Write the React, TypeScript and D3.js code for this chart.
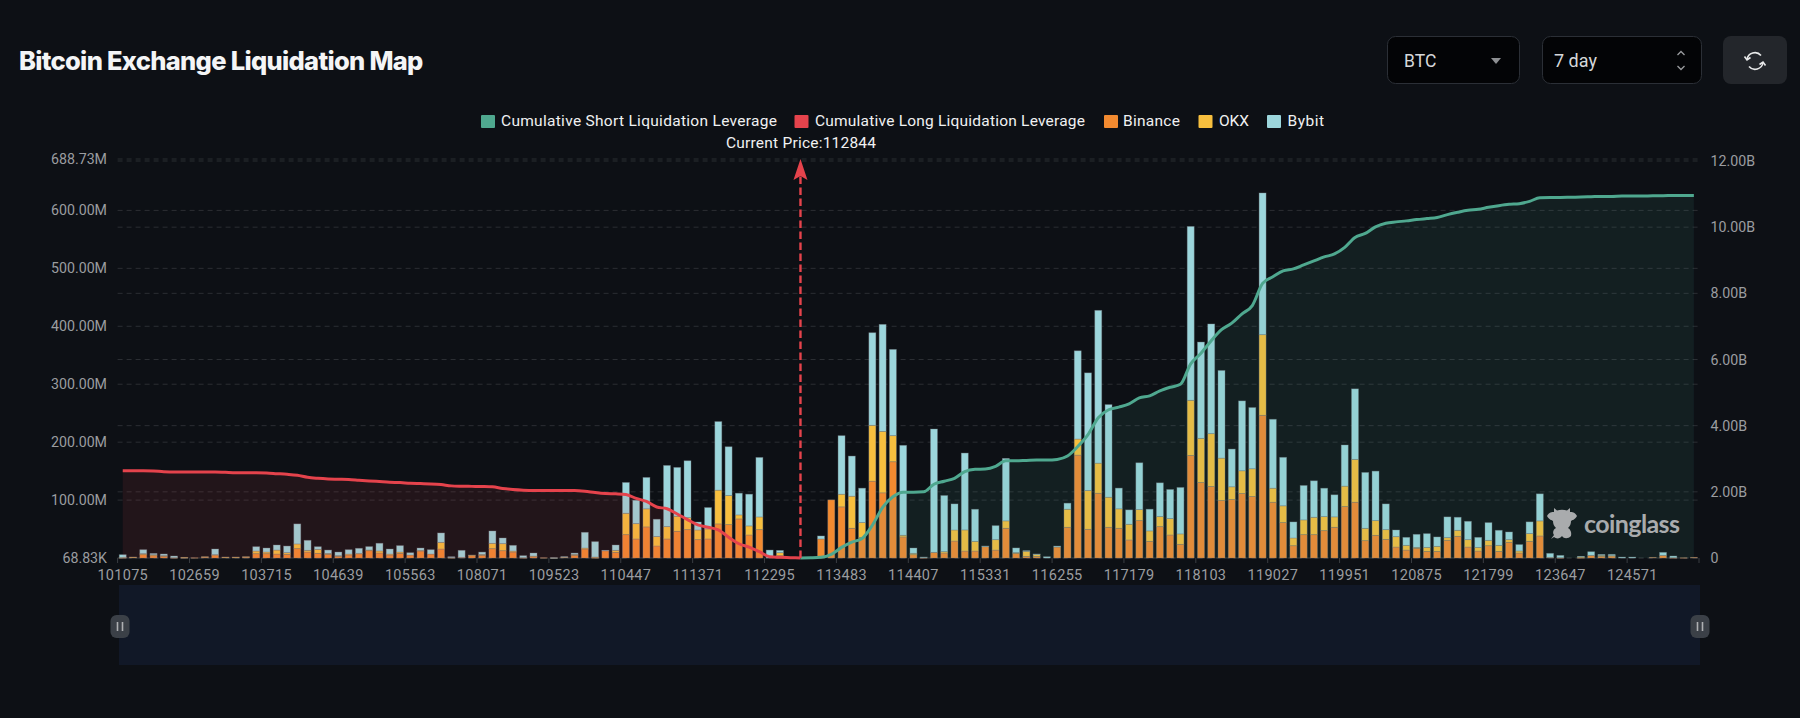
/**
 * Bitcoin Exchange Liquidation Map: stacked exchange bars on the left axis,
 * cumulative long / short lines on the right axis.
 */
import React from 'react';
import * as d3 from 'd3';

// ── Data (millions, per price bucket) ─────────────────────────────────────────
const binance = [
  0.6, 1.2, 5.8, 4, 2.9, 0.6, 0.6, 0.6, 1.7, 5.2,
  1.2, 1.2, 1.7, 7.5, 7.5, 6.9, 6.3, 16.2, 10.4, 8.1,
  6.3, 2.9, 5.2, 7.5, 12.7, 8.7, 5.2, 8.1, 5.2, 12.1,
  6.9, 15.6, 0.6, 1.2, 4, 4.6, 16.2, 12.7, 10.4, 0.6,
  2.3, 0.6, 0.3, 1.2, 4.6, 15.6, 0.6, 12.7, 9.8, 40.4,
  32.9, 53.7, 20.8, 32.9, 46.2, 49, 31.7, 32.9, 58.9, 57.7,
  67.5, 39.8, 49, 0, 4, 0, 0, 0, 32.9, 100.4,
  88.3, 51.4, 35.2, 132.7, 112.5, 166.2, 36.4, 5.8, 0.6, 9.8,
  8.7, 29.4, 12.1, 12.1, 19.6, 13.8, 51.4, 8.1, 2.9, 2.9,
  0, 19, 53.1, 177.7, 49.6, 111.9, 53.1, 51.4, 31.2, 64.6,
  28.9, 54.2, 39.8, 23.7, 177.1, 130.4, 123.5, 99.2, 101, 111.4,
  106.2, 246.4, 96.4, 61.2, 21.3, 40.4, 40.4, 47.3, 53.1, 88.9,
  96.4, 30, 39.2, 32.3, 19, 13.8, 16.7, 11.5, 11.5, 30.6,
  37.5, 19, 12.1, 21.3, 11.5, 27.1, 8.7, 28.9, 38.1, 1.2,
  0.6, 0, 0.6, 4.6, 2.9, 3.5, 0, 0, 0, 1.2,
  4.6, 0.6, 0.6, 1.2,
];
const okx = [
  0.6, 0.6, 1.7, 1.7, 1.2, 0, 0.6, 0, 0.6, 0.6,
  0.6, 0.6, 0.6, 4.6, 2.9, 6.9, 2.9, 8.1, 2.9, 6.9,
  1.7, 1.2, 1.7, 0.6, 1.2, 3.5, 1.7, 2.3, 0, 1.2,
  0, 11.5, 0, 0, 1.2, 1.7, 9.2, 12.1, 1.7, 0,
  1.2, 0, 0, 0.6, 1.7, 1.7, 1.2, 0, 3.5, 36.9,
  26.5, 31.2, 16.2, 21.3, 26, 20.8, 16.7, 17.3, 58.3, 50.2,
  6.9, 15.6, 21.9, 0, 5.2, 0, 0, 0, 0, 0,
  21.9, 55.4, 26, 96.4, 106.2, 45, 2.9, 2.3, 0, 0,
  2.3, 19, 36.4, 16.7, 0, 17.9, 12.7, 1.2, 8.7, 3.5,
  0, 0, 31.2, 27.7, 66.9, 51.9, 51.9, 33.5, 27.1, 19,
  17.9, 17.3, 28.3, 17.9, 95.2, 76.2, 91.2, 73.3, 21.9, 39.2,
  47.9, 139.1, 24.2, 28.9, 13.3, 25.4, 30, 24.2, 17.9, 35.2,
  73.9, 21.3, 25.4, 16.7, 17.9, 8.1, 1.7, 6.9, 8.7, 4.6,
  10.4, 12.7, 6.3, 9.2, 10.4, 4.6, 3.5, 13.3, 26, 0,
  0, 0, 1.7, 0, 1.7, 0.6, 0, 0, 0, 0,
  0, 0, 0, 0,
];
const bybit = [
  4.6, 0, 6.9, 2.3, 2.9, 2.9, 0, 0, 0, 9.8,
  0, 0, 0, 7.5, 6.9, 8.7, 11.5, 34.6, 17.3, 4.6,
  5.8, 6.3, 7.5, 8.7, 5.8, 13.3, 8.7, 11, 4, 4,
  7.5, 16.2, 1.7, 12.1, 0, 4, 21.3, 9.8, 9.8, 3.5,
  5.2, 0, 0.3, 0.6, 2.3, 27.1, 26.5, 0.6, 9.2, 53.1,
  40.4, 54.2, 30, 105.6, 84.2, 98.1, 13.8, 36.9, 118.3, 84.2,
  37.5, 54.8, 102.7, 13.8, 4, 0, 0, 0, 5.2, 0,
  101, 69.2, 59.4, 159.8, 184.6, 148.9, 155.2, 9.2, 1.2, 212.9,
  96.9, 45, 132.7, 55.4, 1.2, 24.2, 107.9, 8.1, 1.2, 0.6,
  2.3, 1.7, 10.4, 152.3, 203.1, 263.7, 159.8, 35.8, 24.8, 80.8,
  37.5, 58.3, 50.2, 80.2, 300, 166.2, 189.3, 151.2, 65.2, 120.6,
  105.6, 244.6, 118.9, 83.7, 27.7, 59.4, 62.9, 49, 38.1, 71,
  121.7, 96.4, 85.4, 44.4, 11.5, 13.8, 22.5, 23.7, 16.2, 35.8,
  22.5, 31.7, 17.3, 30.6, 26, 13.3, 11, 20.2, 46.7, 6.9,
  4, 0, 0.6, 6.3, 1.7, 2.3, 1.7, 1.7, 0, 0,
  5.2, 2.9, 0, 0,
];

// Cumulative leverage in billions. Long runs from bucket 0 down to the current
// price bucket, short runs from there to the last bucket.
const cumulativeLong = [
  2.64, 2.64, 2.64, 2.63, 2.61, 2.6, 2.6, 2.6, 2.6, 2.6,
  2.59, 2.58, 2.58, 2.58, 2.57, 2.55, 2.53, 2.5, 2.44, 2.41,
  2.39, 2.38, 2.37, 2.35, 2.33, 2.31, 2.29, 2.28, 2.26, 2.25,
  2.24, 2.22, 2.18, 2.17, 2.165, 2.16, 2.15, 2.1, 2.07, 2.05,
  2.04, 2.04, 2.04, 2.04, 2.04, 2.02, 1.98, 1.95, 1.94, 1.92,
  1.8, 1.71, 1.54, 1.49, 1.33, 1.16, 1, 0.93, 0.85, 0.63,
  0.43, 0.33, 0.19, 0.04, 0.02, 0.01, 0,
];
const cumulativeShort = [
  0, 0.005, 0.02, 0.11, 0.32, 0.48, 0.59, 0.99, 1.53, 1.85,
  1.99, 1.99, 2, 2.23, 2.32, 2.41, 2.61, 2.68, 2.69, 2.77,
  2.94, 2.94, 2.95, 2.96, 2.96, 2.98, 3.08, 3.37, 3.73, 4.24,
  4.48, 4.56, 4.66, 4.84, 4.9, 5.05, 5.16, 5.25, 5.87, 6.19,
  6.57, 6.9, 7.1, 7.38, 7.63, 8.3, 8.5, 8.68, 8.74, 8.86,
  8.98, 9.1, 9.19, 9.39, 9.69, 9.81, 10.01, 10.12, 10.16, 10.19,
  10.23, 10.26, 10.29, 10.38, 10.45, 10.51, 10.54, 10.6, 10.65, 10.69,
  10.71, 10.78, 10.89, 10.9, 10.9, 10.905, 10.91, 10.92, 10.93, 10.93,
  10.94, 10.94, 10.94, 10.95, 10.95, 10.96, 10.96, 10.96,
];

const xTickLabels = [
  '101075', '102659', '103715', '104639', '105563', '108071', '109523', '110447',
  '111371', '112295', '113483', '114407', '115331', '116255', '117179', '118103',
  '119027', '119951', '120875', '121799', '123647', '124571',
];
const leftTicks = [0.06883, 100, 200, 300, 400, 500, 600, 688.73];
const leftTickLabels = ['68.83K', '100.00M', '200.00M', '300.00M', '400.00M', '500.00M', '600.00M', '688.73M'];
const rightTicks = [0, 2, 4, 6, 8, 10, 12];
const rightTickLabels = ['0', '2.00B', '4.00B', '6.00B', '8.00B', '10.00B', '12.00B'];

const CURRENT_BUCKET = 66; // price bucket of the current price marker
const TICK_EVERY = 7;

// ── Layout + colours ──────────────────────────────────────────────────────────
const WIDTH = 1800;
const HEIGHT = 718;
const PLOT = { left: 117.6, right: 1699, top: 159, topRight: 161, bottom: 558 };

const BG = '#0d1015';
const GRID = '#2b2e33';
const AXIS_TEXT = '#9b9da0';
const GREEN = '#4fa88f';
const RED = '#e5434c';
const ORANGE = '#f28a30';
const YELLOW = '#f7bf3e';
const TEAL = '#9cd6dc';

const FONT = 'Roboto, sans-serif';

const legendItems = [
  { label: 'Cumulative Short Liquidation Leverage', color: GREEN, x: 481, textX: 501, textW: 276 },
  { label: 'Cumulative Long Liquidation Leverage', color: RED, x: 794.5, textX: 815, textW: 270 },
  { label: 'Binance', color: ORANGE, x: 1104, textX: 1123, textW: 57 },
  { label: 'OKX', color: YELLOW, x: 1198.5, textX: 1219, textW: 30 },
  { label: 'Bybit', color: TEAL, x: 1267, textX: 1287.5, textW: 36.5 },
];

// ── Scales ────────────────────────────────────────────────────────────────────
const buckets = d3.range(binance.length);
const x = d3
  .scaleBand<number>()
  .domain(buckets)
  .range([PLOT.left, PLOT.right])
  .paddingInner(0.32)
  .paddingOuter(0.16);
const center = (i: number) => (x(i) ?? 0) + x.bandwidth() / 2;

const yLeft = d3.scaleLinear().domain([0.06883, 688.73]).range([PLOT.bottom, PLOT.top]);
const yRight = d3.scaleLinear().domain([0, 12]).range([PLOT.bottom, PLOT.topRight]);

const rows = buckets.map((i) => ({ binance: binance[i], okx: okx[i], bybit: bybit[i] }));
const stacked = d3.stack<{ binance: number; okx: number; bybit: number }>().keys(['binance', 'okx', 'bybit'])(rows);
const stackColors = [ORANGE, YELLOW, TEAL];

const longPoints = cumulativeLong.map((v, i) => ({ i, v }));
const shortPoints = cumulativeShort.map((v, k) => ({ i: CURRENT_BUCKET + k, v }));

const line = d3
  .line<{ i: number; v: number }>()
  .x((d) => center(d.i))
  .y((d) => yRight(d.v))
  .curve(d3.curveMonotoneX);
const area = d3
  .area<{ i: number; v: number }>()
  .x((d) => center(d.i))
  .y0(PLOT.bottom)
  .y1((d) => yRight(d.v))
  .curve(d3.curveMonotoneX);

// Bull mascot outline, drawn around its own centre
const BULL_PATH =
  'M-15,-7 C-13,-11 -10,-11 -8,-11 L-8,-15 L-5,-12.5 C-2,-13.5 2,-13.5 5,-12.5 L8,-15 L8,-11 C10,-11 13,-11 15,-7 ' +
  'C13,-3 10,-3 9,-2 C9,1 8,3 6,5 C8,6 10,9 9,13 C6,16 2,16 0,13 C-2,16 -6,16 -8,14 L-11,16 L-8,12 ' +
  'C-10,9 -8,6 -6,5 C-8,3 -9,1 -9,-2 C-10,-3 -13,-3 -15,-7 Z';

export default function App() {
  const currentX = center(CURRENT_BUCKET);
  const tickBuckets = xTickLabels.map((_, k) => k * TICK_EVERY);

  return (
    <div style={{ position: 'fixed', left: 0, top: 0, width: WIDTH, height: HEIGHT, background: BG }}>
      <svg width={WIDTH} height={HEIGHT} style={{ display: 'block', fontFamily: FONT }}>
        <rect width={WIDTH} height={HEIGHT} fill={BG} />

        {/* ── Header ── */}
        <text x={19} y={70} fill="#f4f5f6" fontFamily="Inter, sans-serif" fontWeight={800} fontSize={25.5} letterSpacing={-0.7}>
          Bitcoin Exchange Liquidation Map
        </text>

        <rect x={1387.5} y={36.5} width={132} height={47} rx={8} fill="#030406" stroke="#2b2f36" />
        <text x={1404} y={67} fill="#d6d8da" fontSize={17.5}>BTC</text>
        <path d="M1491,58 L1501,58 L1496,64 Z" fill="#8d8f92" />

        <rect x={1542.5} y={36.5} width={159} height={47} rx={8} fill="#030406" stroke="#2b2f36" />
        <text x={1554} y={67} fill="#d6d8da" fontSize={18}>7 day</text>
        <path d="M1677.5,55 L1681,51.5 L1684.5,55 M1677.5,66 L1681,69.5 L1684.5,66" fill="none" stroke="#9a9c9f" strokeWidth={1.3} />

        <rect x={1723} y={36} width={64} height={48} rx={8} fill="#23262b" />
        <g fill="none" stroke="#e8e9ea" strokeWidth={1.6} transform="translate(1755,61)">
          <path d="M-8,-1.5 A8,8 0 0 1 6,-5.5" />
          <path d="M8,1.5 A8,8 0 0 1 -6,5.5" />
          <path d="M-10.5,-4.5 L-8,-1 L-4.5,-3.5" />
          <path d="M10.5,4.5 L8,1 L4.5,3.5" />
        </g>

        {/* ── Legend ── */}
        {legendItems.map((d) => (
          <g key={d.label}>
            <rect x={d.x} y={115} width={14} height={13} fill={d.color} rx={1} />
            <text x={d.textX} y={126} fill="#f0f1f2" fontSize={15.5} textLength={d.textW} lengthAdjust="spacing">
              {d.label}
            </text>
          </g>
        ))}
        <text x={726} y={148} fill="#f0f1f2" fontSize={15.5} textLength={150} lengthAdjust="spacing">
          Current Price:112844
        </text>

        {/* ── Grid ── */}
        <g stroke={GRID} strokeDasharray="5 4">
          {leftTicks.map((t) => (
            <line key={`l${t}`} x1={PLOT.left} x2={PLOT.right} y1={yLeft(t)} y2={yLeft(t)} />
          ))}
          {rightTicks.map((t) => (
            <line key={`r${t}`} x1={PLOT.left} x2={PLOT.right} y1={yRight(t)} y2={yRight(t)} />
          ))}
        </g>

        {/* ── Stacked bars ── */}
        {stacked.map((series, s) => (
          <g key={series.key} fill={stackColors[s]} stroke="rgba(120,125,130,0.45)" strokeWidth={0.8}>
            {series.map((d, i) =>
              d[1] - d[0] > 0 ? (
                <rect
                  key={i}
                  x={x(i)}
                  y={yLeft(d[1])}
                  width={x.bandwidth()}
                  height={Math.max(0.6, yLeft(d[0]) - yLeft(d[1]))}
                />
              ) : null,
            )}
          </g>
        ))}

        {/* ── Cumulative areas and lines, over the bars ── */}
        <path d={area(longPoints) ?? ''} fill={RED} fillOpacity={0.1} />
        <path d={area(shortPoints) ?? ''} fill={GREEN} fillOpacity={0.1} />
        <path d={line(longPoints) ?? ''} fill="none" stroke={RED} strokeWidth={3} />
        <path d={line(shortPoints) ?? ''} fill="none" stroke={GREEN} strokeWidth={3} />

        {/* ── Current price marker ── */}
        <line x1={currentX} x2={currentX} y1={PLOT.bottom} y2={176} stroke={RED} strokeWidth={2.4} strokeDasharray="7.5 3.5" />
        <path d={`M${currentX},159 L${currentX + 7},180 L${currentX},176 L${currentX - 7},180 Z`} fill={RED} />

        {/* ── Axes ── */}
        {leftTicks.map((t, k) => (
          <text key={t} x={107} y={yLeft(t) + 5} textAnchor="end" fill={AXIS_TEXT} fontSize={14.2}>
            {leftTickLabels[k]}
          </text>
        ))}
        {rightTicks.map((t, k) => (
          <text key={t} x={1710.5} y={yRight(t) + 5} fill={AXIS_TEXT} fontSize={14.2}>
            {rightTickLabels[k]}
          </text>
        ))}
        <g stroke="#3a3d42">
          {tickBuckets.map((b) => (
            <line key={b} x1={x.step() * b + PLOT.left} x2={x.step() * b + PLOT.left} y1={PLOT.bottom} y2={PLOT.bottom + 5} />
          ))}
          <line x1={PLOT.right} x2={PLOT.right} y1={PLOT.bottom} y2={PLOT.bottom + 5} />
        </g>
        {tickBuckets.map((b, k) => (
          <text key={b} x={center(b)} y={580} textAnchor="middle" fill={AXIS_TEXT} fontSize={14.5} letterSpacing={0.3}>
            {xTickLabels[k]}
          </text>
        ))}

        {/* ── Watermark ── */}
        <path d={BULL_PATH} transform="translate(1562,523)" fill="#a9abad" />
        <text x={1584} y={533} fill="#a9abad" fontFamily="Lato, sans-serif" fontWeight={700} fontSize={25} textLength={96} lengthAdjust="spacing">
          coinglass
        </text>

        {/* ── Range slider ── */}
        <rect x={119} y={585} width={1581} height={80} fill="#111827" />
        {[120, 1700].map((cx) => (
          <g key={cx}>
            <rect x={cx - 9.5} y={615} width={19} height={23} rx={6} fill="#3b4047" />
            <path d={`M${cx - 2.5},622 V631 M${cx + 2.5},622 V631`} stroke="#aeb0b3" strokeWidth={1.6} />
          </g>
        ))}
      </svg>
    </div>
  );
}
